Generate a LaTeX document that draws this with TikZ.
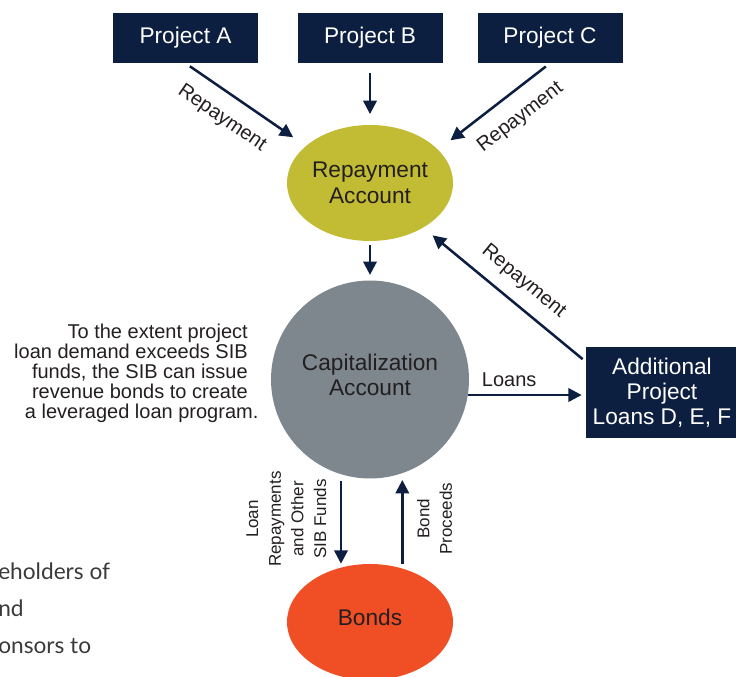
\documentclass[tikz,border=0pt]{standalone}
\usepackage{fontspec}
\setmainfont{Liberation Sans}
\newfontfamily\notefont{Lato}
\usetikzlibrary{arrows.meta,shapes.geometric,calc}

\definecolor{sibnavy}{HTML}{0C1F40}
\definecolor{sibolive}{HTML}{C2BB34}
\definecolor{sibgray}{HTML}{7E868E}
\definecolor{siborange}{HTML}{F04E24}
\definecolor{sibtext}{HTML}{231F20}
\definecolor{notegray}{HTML}{3A3A3A}

\tikzset{
	projbox/.style={fill=sibnavy, text=white, inner sep=0pt, minimum width=108.75pt, minimum height=37.5pt, font=\fontsize{17}{20}\selectfont},
	acct/.style={ellipse, inner sep=0pt, text=sibtext, align=center, minimum width=124.5pt, minimum height=87pt},
	conn/.style={draw=sibnavy, line width=1.9pt, -{Triangle[length=10pt,width=10pt]}},
	lbl/.style={text=sibtext, inner sep=2pt, font=\fontsize{15}{17}\selectfont},
	vlbl/.style={text=sibtext, inner sep=2pt, align=center, rotate=90, outer sep=9pt, font=\fontsize{12.75}{17}\selectfont},
	notetext/.style={anchor=base west, inner sep=0pt, text=notegray, font=\notefont\fontsize{17}{20}\selectfont},
}

\begin{document}
\begin{tikzpicture}[x=0.75pt, y=-0.75pt]
			%%%%% START %%%%%
			\useasboundingbox (0,0) rectangle (736,677);
			\clip (0,0) rectangle (736,677);
			
			\node[projbox] (pA) at (185.5,38) {Project A};
			\node[projbox] (pB) at (370,38) {Project B};
			\node[projbox] (pC) at (550,38) {Project C};
			
			\node[acct, fill=sibolive, font=\fontsize{17}{19.5}\selectfont] (rep) at (370,183) {Repayment\\Account};
			\node[acct, circle, fill=sibgray, minimum size=148.5pt, text depth=7pt, font=\fontsize{17}{18.75}\selectfont] (cap) at (370,379.5) {Capitalization\\Account};
			\node[acct, fill=siborange, text depth=7.5pt, font=\fontsize{17}{20}\selectfont] (bonds) at (370,622) {Bonds};
			
			\node[fill=sibnavy, text=white, align=center, inner sep=0pt, minimum width=114pt, minimum height=68.25pt, font=\fontsize{17}{18.75}\selectfont] (add) at (662,392.5) {Additional\\Project\\Loans D, E, F};
			
			\node[anchor=east, align=right, inner sep=0pt, text=sibtext, font=\fontsize{15}{15}\selectfont] (extent) at (248,373) {To the extent project\\loan demand exceeds SIB\\funds, the SIB can issue\\revenue bonds to create\\a leveraged loan program.\hspace*{-8pt}};
			
			\node[notetext] (n1) at (-2,579) {eholders of};
			\node[notetext] (n2) at (-2,616) {nd};
			\node[notetext] (n3) at (-2,653) {onsors to};
			
			% repayments in
			\draw[conn, shorten <=4pt, shorten >=11.5pt] (pA.south) -- (rep.150) node[lbl, sloped, pos=0.42, below=9pt] {Repayment};
			\draw[conn, shorten <=7.5pt, shorten >=8pt] (pB) -- (rep);
			\draw[conn, shorten <=4pt, shorten >=11.5pt] (pC.south) -- (rep.26) node[lbl, sloped, pos=0.4, below=9pt] {Repayment};
			\draw[conn, shorten <=3pt, shorten >=9pt] (add.158) -- (rep.320) node[lbl, sloped, pos=0.47, above=7pt] {Repayment};
			
			\draw[conn, shorten <=3pt, shorten >=4pt] (rep) -- (cap);
			\draw[conn, shorten >=3pt] (cap.-9) -- (cap.-9 -| add.west) node[lbl, pos=0.35, above=3pt] {Loans};
			
			% bond flows
			\draw[conn, shorten <=5pt] (cap.253) -- (cap.253 |- bonds.north) node[vlbl, midway, anchor=south] {Loan\\Repayments\\and Other\\SIB Funds};
			\draw[conn, shorten >=5pt] (cap.289 |- bonds.north) -- (cap.289) node[vlbl, midway, anchor=north] {Bond\\Proceeds};
			%%%%% END %%%%%
\end{tikzpicture}
\end{document}
